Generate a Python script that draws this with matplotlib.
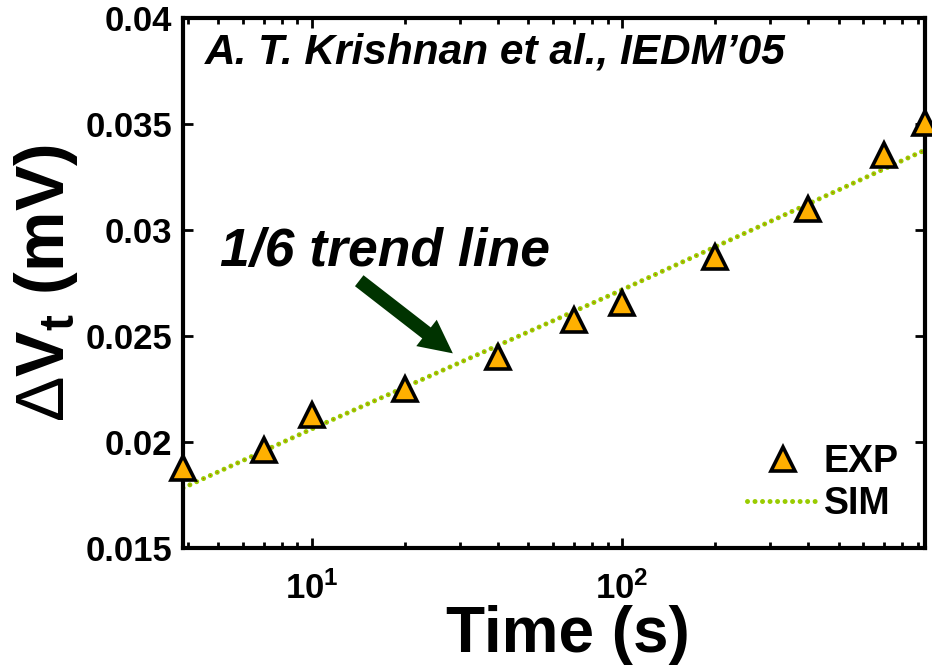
import matplotlib
matplotlib.use("Agg")
import matplotlib.pyplot as plt
from matplotlib.ticker import FixedLocator, NullFormatter, LogLocator

plt.rcParams['font.family'] = ['Liberation Sans', 'DejaVu Sans']
plt.rcParams['font.weight'] = 'bold'
plt.rcParams['mathtext.fontset'] = 'custom'
plt.rcParams['mathtext.rm'] = 'Liberation Sans:bold'
plt.rcParams['mathtext.bf'] = 'Liberation Sans:bold'
plt.rcParams['mathtext.it'] = 'Liberation Sans:italic:bold'
plt.rcParams['mathtext.sf'] = 'Liberation Sans:weight=normal'
plt.rcParams['lines.scale_dashes'] = False

# measured data (EXP)
exp_t = [3.85, 7, 10, 20, 40, 70, 100, 200, 400, 700, 950]
exp_v = [0.01877, 0.01962, 0.02127, 0.0225, 0.02401, 0.02575, 0.02656,
         0.02873, 0.03099, 0.03354, 0.03505]

# simulated trend (SIM)
sim_t = [3.85, 10, 100, 950]
sim_v = [0.01783, 0.02061, 0.02717, 0.03377]

y_ticks = [0.015, 0.02, 0.025, 0.03, 0.035, 0.04]
y_labels = ['0.015', '0.02', '0.025', '0.03', '0.035', '0.04']

fig = plt.figure(figsize=(9.32, 6.69), dpi=100)
ax = fig.add_axes([0.1964, 0.1809, 0.7961, 0.7922])

ax.set_xscale('log')
sim_line, = ax.plot(sim_t, sim_v, color='#99cc00', lw=3.6, dashes=(0.01, 5.4),
                    dash_capstyle='round', zorder=2)
ax.plot(sim_t, sim_v, color='#e02020', lw=0.9, dashes=(0.01, 5.4),
        dash_capstyle='round', zorder=2)
exp_pts, = ax.plot(exp_t, exp_v, ls='none', marker='^', ms=17, mfc='#ffb000',
                   mec='black', mew=2.6, clip_on=False, zorder=3)

ax.set_xlim(3.85, 950)
ax.set_ylim(0.015, 0.04)
ax.yaxis.set_major_locator(FixedLocator(y_ticks))
ax.set_yticklabels(y_labels)
ax.xaxis.set_major_locator(LogLocator(base=10))
ax.xaxis.set_minor_formatter(NullFormatter())

for s in ax.spines.values():
    s.set_linewidth(3)
ax.tick_params(which='both', direction='in', top=True, right=True, width=2)
ax.tick_params(which='major', length=7)
ax.tick_params(which='minor', length=4)
ax.tick_params(axis='y', labelsize=25, pad=8)
ax.tick_params(axis='x', labelsize=25, pad=17)

ax.set_xlabel('Time (s)', fontsize=46, fontweight='bold')
ax.xaxis.set_label_coords(0.519, -0.108)
ax.set_ylabel(r'$\mathsf{\Delta}\mathrm{V_t}$ (mV)', fontsize=49, fontweight='bold')
ax.yaxis.set_label_coords(-0.139, 0.5)

ax.text(0.03, 0.972, 'A. T. Krishnan et al., IEDM\u201905', transform=ax.transAxes,
        fontsize=30.5, fontweight='bold', fontstyle='italic', va='top', ha='left')
ax.text(0.05, 0.558, '1/6 trend line', transform=ax.transAxes,
        fontsize=38.5, fontweight='bold', fontstyle='italic', va='center', ha='left')
ax.annotate('', xy=(0.3666, 0.364), xytext=(0.2345, 0.5075),
            xycoords='axes fraction', textcoords='axes fraction',
            arrowprops=dict(arrowstyle='simple,head_length=1.2,head_width=1.2,tail_width=0.5',
                            mutation_scale=20, color='#003300', lw=0))

ax.legend([exp_pts, sim_line], ['EXP', 'SIM'], loc='lower right', frameon=False,
          fontsize=27, handlelength=1.9, handletextpad=0.15, labelspacing=0.15,
          borderaxespad=0.3, bbox_to_anchor=(1.0, 0.0))

fig.savefig('out.png', dpi=100)
